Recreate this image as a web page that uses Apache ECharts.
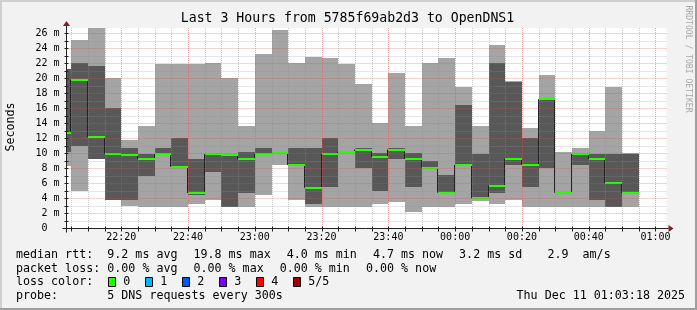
<!DOCTYPE html>
<html><head><meta charset="utf-8">
<script src="https://cdn.jsdelivr.net/npm/echarts@6/dist/echarts.min.js"></script>
<style>html,body{margin:0;padding:0;background:#f2f2f2}#c{width:697px;height:310px}</style>
</head><body><div id="c"></div>
<script>
// ---- data (5-minute bins, values in ms) ----
const binEnd = ['22:05','22:10','22:15','22:20','22:25','22:30','22:35','22:40','22:45','22:50',
  '22:55','23:00','23:05','23:10','23:15','23:20','23:25','23:30','23:35','23:40',
  '23:45','23:50','23:55','00:00','00:05','00:10','00:15','00:20','00:25','00:30',
  '00:35','00:40','00:45','00:50','00:55'];
const pingMin  = [8.3, 5.0, 9.2, 3.8, 3.0, 2.9, 2.9, 2.9, 3.2, 3.8,
  2.9, 2.9, 4.5, 8.4, 3.8, 2.9, 2.9, 2.9, 2.9, 3.2,
  3.5, 2.2, 2.9, 2.9, 3.2, 3.7, 3.2, 3.8, 2.9, 2.9,
  2.9, 2.9, 2.9, 2.9, 2.9];
const pingLow  = [10.2, 11.0, 9.2, 3.8, 3.8, 7.0, 9.8, 8.1, 4.5, 7.5,
  2.9, 4.7, 9.8, 9.9, 8.3, 3.2, 5.5, 10.1, 8.1, 5.0,
  9.25, 5.5, 8.0, 4.6, 8.35, 3.9, 4.7, 8.4, 5.5, 8.1,
  4.6, 8.4, 3.8, 2.9, 4.6];
const median   = [12.7, 19.8, 12.2, 9.9, 9.75, 9.2, 9.9, 8.2, 4.7, 9.9,
  9.8, 9.2, 9.9, 10.0, 8.45, 5.4, 9.9, 10.2, 10.5, 9.5,
  10.5, 9.25, 8.1, 4.75, 8.45, 4.0, 5.7, 9.25, 8.45, 17.2,
  4.75, 9.9, 9.25, 6.05, 4.7];
const pingHigh = [21.2, 22.1, 21.7, 16.1, 10.7, 9.9, 10.7, 12.0, 9.2, 10.0,
  9.9, 10.2, 10.7, 10.15, 10.7, 10.7, 12.1, 10.25, 10.7, 10.1,
  10.7, 10.1, 8.95, 7.1, 16.4, 9.9, 22.1, 19.5, 12.1, 17.3,
  4.85, 10.0, 9.9, 9.9, 9.9];
const pingMax  = [21.2, 25.1, 26.7, 20.1, 11.8, 13.6, 21.9, 21.9, 21.9, 22.1,
  20.0, 13.6, 23.3, 26.4, 22.1, 22.9, 22.7, 21.9, 19.2, 14.1,
  20.7, 13.7, 22.1, 22.7, 18.9, 13.6, 24.4, 19.7, 13.4, 20.4,
  10.2, 10.7, 12.95, 18.9, 10.1];
const xTickLabels = ['22:20','22:40','23:00','23:20','23:40','00:00','00:20','00:40','01:00'];
const yTickLabels = [0,2,4,6,8,10,12,14,16,18,20,22,24,26];
const lossLevels = ['0','1','2','3','4','5/5'];
const lossColors = ['#26ff00','#00b8ff','#0059ff','#7e00ff','#ff0000','#a10000'];
const rttStats = ['9.2 ms avg','19.8 ms max','4.0 ms min','4.7 ms now','3.2 ms sd','2.9  am/s'];
const lossStats = ['0.00 % avg','0.00 % max','0.00 % min','0.00 % now'];

// ---- axis setup ----
function toMin(t){const p=t.split(':').map(Number);return ((p[0]<12?p[0]+24:p[0])-22)*60+p[1];}
const STEP = 5;
const X_MIN = toMin('22:03') + 18/60;
const X_MAX = X_MIN + 180;
const Y_TOP = 26.7;

const smokeData = binEnd.map((t,i)=>[toMin(t)-STEP, toMin(t), pingMin[i], pingLow[i], pingHigh[i], pingMax[i]]);
const bandData = binEnd.map((t,i)=>[toMin(t)-STEP, toMin(t), median[i]]);
const connData = binEnd.map((t,i)=>[toMin(t)-STEP, median[i], i>0?median[i-1]:median[i]]);
const gridData = [];
for (let m=Math.ceil(X_MIN/STEP)*STEP; m<=X_MAX; m+=STEP) gridData.push([0, m, m%20===0?1:0]);
for (let v=1; v<=Math.floor(Y_TOP); v++) gridData.push([1, v, v%2===0?1:0]);

function clampX(cs, x){return Math.round(Math.min(Math.max(x, cs.x), cs.x+cs.width));}

function renderSmoke(params, api){
  const cs = params.coordSys;
  const x1 = clampX(cs, api.coord([api.value(0),0])[0]);
  const x2 = clampX(cs, api.coord([api.value(1),0])[0]);
  const y = v => Math.round(api.coord([X_MIN, v])[1]);
  const yMin=y(api.value(2)), yLow=y(api.value(3)), yHigh=y(api.value(4)), yMax=y(api.value(5));
  return {type:'group', children:[
    {type:'rect', shape:{x:x1,y:yMax,width:x2-x1,height:yMin-yMax}, style:{fill:'#a4a4a4'}},
    {type:'rect', shape:{x:x1,y:yHigh,width:x2-x1,height:yLow-yHigh}, style:{fill:'#585858'}}
  ]};
}
function renderConn(params, api){
  if (params.dataIndex===0) return null;
  const cs = params.coordSys;
  const x = clampX(cs, api.coord([api.value(0),0])[0]) - 0.5;
  const y1 = api.coord([X_MIN, api.value(1)])[1], y2 = api.coord([X_MIN, api.value(2)])[1];
  return {type:'line', shape:{x1:x,y1:y1,x2:x,y2:y2}, style:{stroke:'#202020', lineWidth:1}};
}
function renderBand(params, api){
  const cs = params.coordSys;
  const x1 = clampX(cs, api.coord([api.value(0),0])[0]);
  const x2 = clampX(cs, api.coord([api.value(1),0])[0]);
  const ym = Math.round(api.coord([X_MIN, api.value(2)])[1]);
  return {type:'rect', shape:{x:x1,y:ym-1,width:x2-x1,height:2}, style:{fill:lossColors[0]}};
}
function renderGrid(params, api){
  const cs = params.coordSys;
  const major = api.value(2)===1;
  const style = {stroke: major?'rgba(222,79,79,0.5)':'rgba(143,143,143,0.45)', lineWidth:1, lineDash:[1,1]};
  if (api.value(0)===0){
    const x = Math.round(api.coord([api.value(1),0])[0]) + 0.5;
    return {type:'line', shape:{x1:x,y1:cs.y,x2:x,y2:cs.y+cs.height}, style:style};
  }
  const y = Math.round(api.coord([X_MIN, api.value(1)])[1]) + 0.5;
  return {type:'line', shape:{x1:cs.x,y1:y,x2:cs.x+cs.width,y2:y}, style:style};
}
function renderAxes(params, api){
  const cs = params.coordSys;
  const x0 = Math.round(cs.x)+0.5;
  const y0 = Math.round(cs.y+cs.height)+0.5;
  const xr = cs.x+cs.width, yt = cs.y;
  const st = {stroke:'#1f1f1f', lineWidth:1};
  const ch = [];
  for (let m=Math.ceil(X_MIN/STEP)*STEP; m<=X_MAX; m+=STEP){
    const x = Math.round(api.coord([m,0])[0])+0.5;
    ch.push({type:'line', shape:{x1:x,y1:y0-2,x2:x,y2:y0+3}, style:st});
  }
  for (let v=1; v<=Math.floor(Y_TOP); v++){
    const y = Math.round(api.coord([X_MIN,v])[1])+0.5;
    ch.push({type:'line', shape:{x1:x0-2,y1:y,x2:x0+2,y2:y}, style:st});
  }
  ch.push({type:'line', shape:{x1:x0-4,y1:y0,x2:xr+2,y2:y0}, style:st});
  ch.push({type:'line', shape:{x1:x0,y1:y0+4,x2:x0,y2:yt-2}, style:st});
  ch.push({type:'polygon', shape:{points:[[xr+7,y0],[xr+2,y0-3.5],[xr+2,y0+3.5]]}, style:{fill:'#7f1f1f'}});
  ch.push({type:'polygon', shape:{points:[[x0,yt-7],[x0-3.5,yt-2],[x0+3.5,yt-2]]}, style:{fill:'#7f1f1f'}});
  return {type:'group', children:ch};
}

const MONO = '"DejaVu Sans Mono", monospace';
const LF = '11.66px ' + MONO;
function txt(text, x, y, opt){
  opt = opt || {};
  return {type:'text', x:x, y:y, rotation:opt.rot||0, silent:true,
    style:{text:text, font:opt.font||LF, fill:opt.fill||'#000', textAlign:opt.align||'left',
      textVerticalAlign:'middle', textBaseline:'middle'}};
}
const graphics = [
  {type:'rect', shape:{x:0,y:0,width:697,height:2}, style:{fill:'#cfcfcf'}, silent:true},
  {type:'rect', shape:{x:0,y:0,width:2,height:310}, style:{fill:'#cfcfcf'}, silent:true},
  {type:'rect', shape:{x:0,y:308,width:697,height:2}, style:{fill:'#9e9e9e'}, silent:true},
  {type:'rect', shape:{x:695,y:0,width:2,height:310}, style:{fill:'#9e9e9e'}, silent:true},
  txt('Last 3 Hours from 5785f69ab2d3 to OpenDNS1', 347.5, 18.5, {font:'13.2px '+MONO, align:'center'}),
  txt('Seconds', 11, 127, {rot:Math.PI/2, align:'center'}),
  txt('RRDTOOL / TOBI OETIKER', 688.5, 59, {rot:-Math.PI/2, align:'center', font:'8.1px '+MONO, fill:'#a8a8a8'}),
  txt('median rtt:', 16, 255),
  txt('packet loss:', 16, 268.7),
  txt('loss color:', 16, 282.3),
  txt('probe:', 16, 296),
  txt('5 DNS requests every 300s', 107.3, 296),
  txt('Thu Dec 11 01:03:18 2025', 685, 296, {align:'right'})
];
const rttX = [107.3, 193.5, 286.7, 372.9, 459.1, 547.5];
rttStats.forEach((s,i)=>graphics.push(txt(s, rttX[i], 255)));
const lossX = [107.3, 193.5, 279.7, 366];
lossStats.forEach((s,i)=>graphics.push(txt(s, lossX[i], 268.7)));
lossLevels.forEach((l,i)=>{
  const bx = 108.5 + i*37;
  graphics.push({type:'rect', shape:{x:bx,y:277.5,width:7,height:9}, style:{fill:lossColors[i], stroke:'#000', lineWidth:1}, silent:true});
  graphics.push(txt(l, bx+14.8, 282.3));
});

const chart = echarts.init(document.getElementById('c'), null, {renderer:'canvas'});
chart.setOption({
  animation:false,
  backgroundColor:'#f2f2f2',
  grid:{left:65.5, top:28, width:601, height:200.3, show:true, backgroundColor:'#ffffff', borderWidth:0, containLabel:false, outerBoundsMode:'none'},
  xAxis:{type:'value', min:X_MIN, max:X_MAX,
    axisLine:{show:false}, axisTick:{show:false}, splitLine:{show:false},
    axisLabel:{customValues:xTickLabels.map(toMin), formatter:v=>xTickLabels[xTickLabels.map(toMin).indexOf(v)]||'',
      fontFamily:'DejaVu Sans Mono', fontSize:10, color:'#000', margin:4, showMinLabel:true, showMaxLabel:true}},
  yAxis:{type:'value', min:0, max:Y_TOP,
    axisLine:{show:false}, axisTick:{show:false}, splitLine:{show:false},
    axisLabel:{customValues:yTickLabels, formatter:v=>v===0?'0  ':v+' m',
      fontFamily:'DejaVu Sans Mono', fontSize:10, color:'#000', margin:6}},
  graphic:graphics,
  series:[
    {type:'custom', name:'smoke', renderItem:renderSmoke, data:smokeData, clip:true, silent:true, z:1},
    {type:'custom', name:'median line', renderItem:renderConn, data:connData, clip:true, silent:true, z:2},
    {type:'custom', name:'median', renderItem:renderBand, data:bandData, clip:true, silent:true, z:3},
    {type:'custom', name:'grid', renderItem:renderGrid, data:gridData, clip:false, silent:true, z:4},
    {type:'custom', name:'axes', renderItem:renderAxes, data:[[X_MIN,0]], clip:false, silent:true, z:5}
  ]
});
</script></body></html>
